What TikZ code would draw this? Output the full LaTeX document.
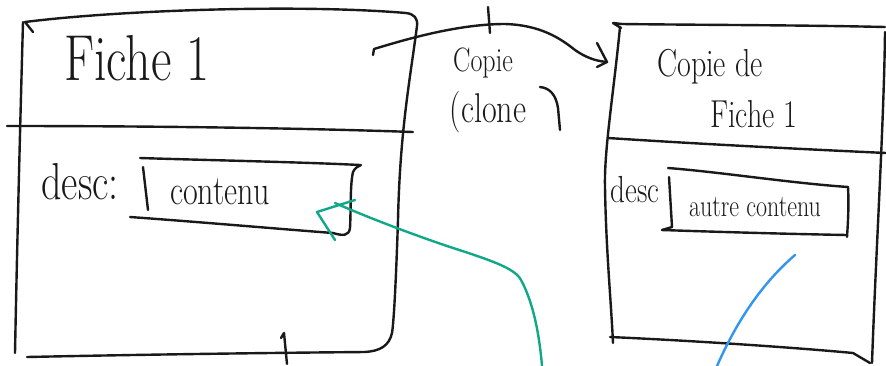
\documentclass[tikz,border=0pt]{standalone}
\usepackage{graphicx}
\usetikzlibrary{calc}
\newcommand{\tall}[1]{\scalebox{1}[1.3]{#1}}
\begin{document}
\begin{tikzpicture}[x=1pt,y=-1pt,
  sk/.style={line width=2.4pt, line cap=round, line join=round, black!90},
  skg/.style={sk, draw=greenink},
  skb/.style={sk, draw=blueink},
  hand/.style={inner sep=0pt, anchor=center, text=black!90}]
\definecolor{greenink}{RGB}{16,168,136}
\definecolor{blueink}{RGB}{50,150,240}
\useasboundingbox[fill=white] (0,0) rectangle (886,365);
% ---------- left box (Fiche 1)
\draw[sk] (33,32) -- (25,22) .. controls (120,10) and (300,4) .. (406,13)
  .. controls (414,14) and (418,18) .. (417,26)
  .. controls (410,80) and (400,130) .. (398,220)
  .. controls (396,280) and (394,320) .. (392,333)
  .. controls (389,346) and (380,351) .. (365,352)
  .. controls (250,353) and (120,355) .. (27,357);
\draw[sk] (23,22) .. controls (20,130) and (17,250) .. (15,353);
\draw[sk] (7,126) .. controls (150,126) and (300,128) .. (413,132);
\node[hand, font=\fontsize{50}{50}\selectfont] (t1) at (137,58) {\tall{Fiche 1}};
\node[hand, font=\fontsize{40}{40}\selectfont] (d1) at (80,182) {\tall{desc:}};
\draw[sk] (140,158) .. controls (200,160) and (300,162) .. (360,165);
\draw[sk] (130,217) .. controls (200,222) and (280,229) .. (333,233)
  .. controls (343,236) and (349,236) .. (350,228)
  .. controls (351,210) and (350,185) .. (353,172)
  .. controls (355,168) and (358,166) .. (361,165);
\draw[sk] (143,167) -- (148,210);
\node[hand, font=\fontsize{32}{32}\selectfont] (c1) at (220,192) {\tall{contenu}};
\draw[sk] (281,338) -- (284,333) -- (287,364);
% ---------- copy arrow
\coordinate (as) at (373,55);
\coordinate (ae) at (607,62);
\draw[sk] (as) -- (374,49) .. controls (410,38) and (460,24) .. (505,24)
  .. controls (540,25) and (560,38) .. (575,50)
  .. controls (585,57) and (595,61) .. (ae);
\draw[sk] (597,43) -- (ae) -- (597,67);
\draw[sk] (488,7) -- (490,33);
\node[hand, font=\fontsize{26}{26}\selectfont] (cp) at (483,63) {\tall{Copie}};
\node[hand, font=\fontsize{32}{32}\selectfont] (cl) at (488,112) {\tall{(clone}};
\draw[sk] (540,87) .. controls (550,88) and (556,95) .. (558,108) -- (560,130);
% ---------- right box (Copie de Fiche 1)
\draw[sk] (621,28) -- (613,23) -- (622,24) .. controls (700,25) and (800,25) .. (885,27);
\draw[sk] (620,27) .. controls (614,90) and (604,150) .. (605,187)
  .. controls (606,250) and (611,300) .. (613,343);
\draw[sk] (608,138) .. controls (700,144) and (800,149) .. (886,153);
\draw[sk] (885,32) .. controls (884,120) and (876,250) .. (872,363);
\draw[sk] (610,337) .. controls (700,341) and (800,348) .. (853,353) -- (870,363);
\node[hand, font=\fontsize{30}{30}\selectfont] (t2a) at (710,67) {\tall{Copie de}};
\node[hand, font=\fontsize{30}{30}\selectfont] (t2b) at (754,114) {\tall{Fiche 1}};
\node[hand, font=\fontsize{29}{29}\selectfont] (d2) at (635,190) {\tall{desc}};
\draw[sk] (668,168) .. controls (720,172) and (790,183) .. (848,187);
\draw[sk] (848,187) .. controls (849,205) and (848,222) .. (847,237);
\draw[sk] (662,230) .. controls (720,232) and (790,234) .. (847,235);
\draw[sk] (662,230) -- (672,227);
\draw[sk] (669,177) -- (672,227);
\node[hand, font=\fontsize{24}{24}\selectfont] (c2) at (755,207) {\tall{autre contenu}};
% ---------- pointers
\coordinate (gs) at (542,366);
\coordinate (ge) at (335,203);
\draw[skg] (gs) .. controls (539,330) and (532,300) .. (521,280)
  .. controls (515,268) and (490,260) .. (447,246)
  .. controls (400,230) and (360,214) .. (ge);
\draw[skg] (355,200) -- (317,212) -- (335,240);
\coordinate (bs) at (717,366);
\coordinate (be) at (795,255);
\draw[skb] (bs) .. controls (735,325) and (760,285) .. (be);
\end{tikzpicture}
\end{document}
